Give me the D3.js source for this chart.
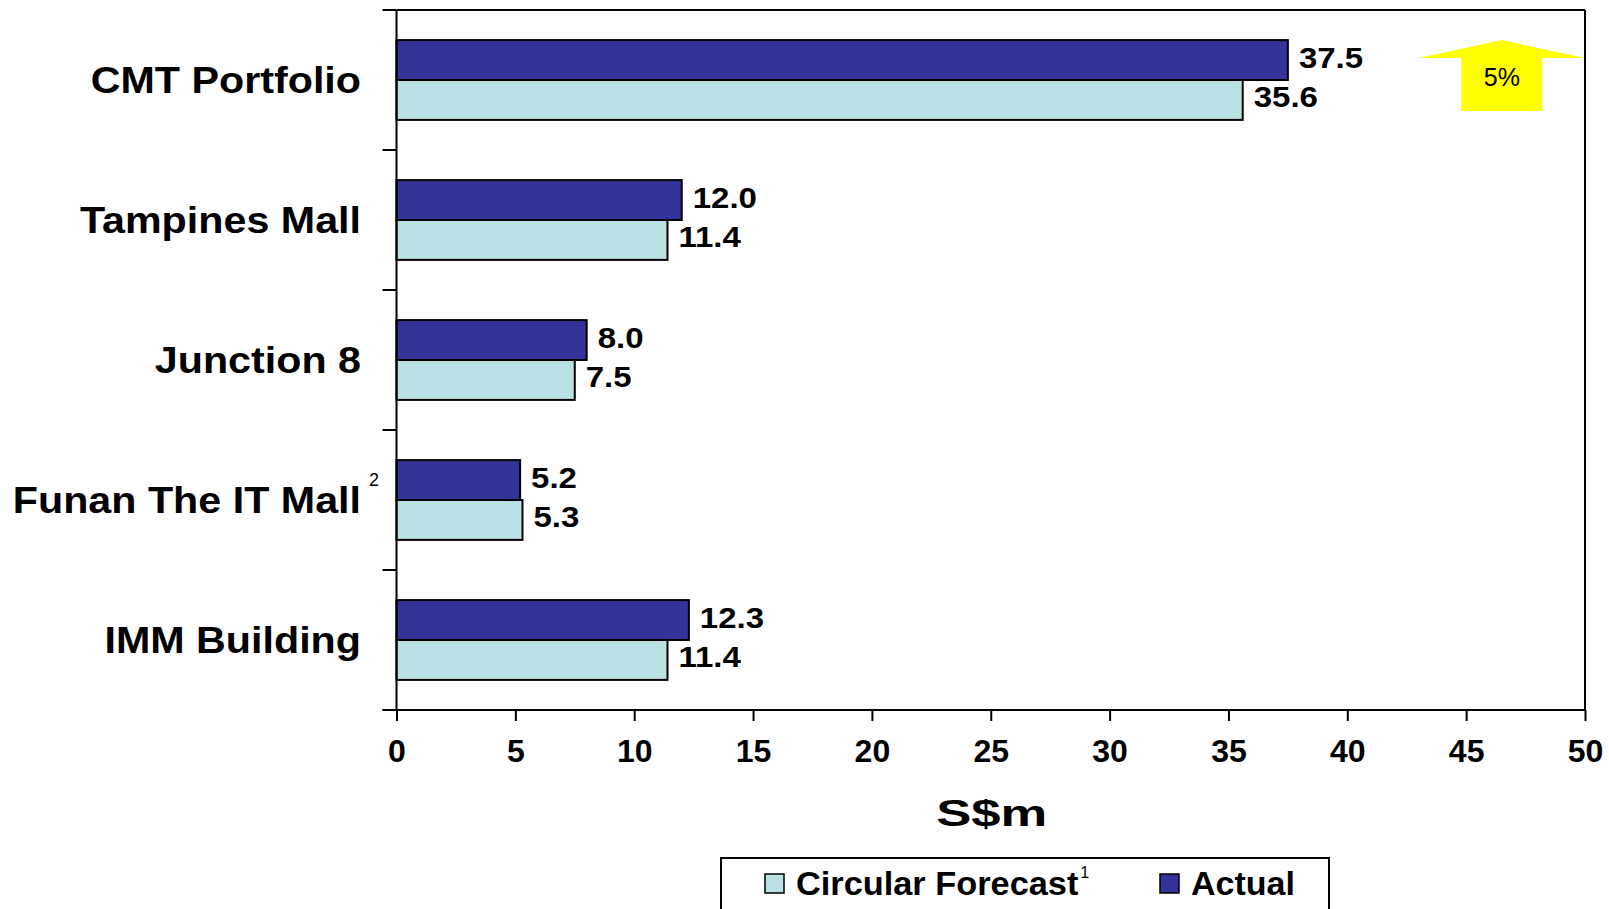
<!DOCTYPE html>
<html>
<head>
<meta charset="utf-8">
<script src="https://cdn.jsdelivr.net/npm/d3@7/dist/d3.min.js"></script>
<style>
  body { margin: 0; background: #fff; }
  svg { display: block; font-family: 'Liberation Sans', Arial, sans-serif; }
</style>
</head>
<body>
<div id="plot"></div>
<script>
'use strict';

const categories = ['CMT Portfolio', 'Tampines Mall', 'Junction 8', 'Funan The IT Mall', 'IMM Building'];
const categoryNotes = ['', '', '', '2', ''];
const actual = [37.5, 12.0, 8.0, 5.2, 12.3];
const forecast = [35.6, 11.4, 7.5, 5.3, 11.4];
const xTicks = [0, 5, 10, 15, 20, 25, 30, 35, 40, 45, 50];
const seriesNames = ['Circular Forecast', 'Actual'];
const seriesNotes = ['1', ''];
const axisTitle = 'S$m';
const growthLabel = '5%';

let col = { actual: '#333399', forecast: '#b9e0e3' }

let width = 1609;
let height = 909;
let m = { left: 396.5, right: 1585, top: 10, bottom: 710 };

let svg = d3.select('#plot').append('svg')
  .attr('width', width)
  .attr('height', height)

let x = d3.scaleLinear()
  .domain([0, 50])
  .range([m.left, m.right]);
let y = d3.scaleBand()
  .domain(categories)
  .range([m.top, m.bottom])
  .paddingInner(0.43)
  .paddingOuter(0.215);
let ySub = d3.scaleBand()
  .domain(['actual', 'forecast'])
  .range([0, y.bandwidth()]);

let rows = categories.map((c, i) => ({cat: c, note: categoryNotes[i], actual: actual[i], forecast: forecast[i]}));

// growth arrow in the top band
let arrowX = 46.5, arrowHalfHead = 3.5, arrowHalfStem = 1.7;
let ay = y(categories[0]);
let arrow = d3.path();
arrow.moveTo(x(arrowX), ay);
arrow.lineTo(x(arrowX + arrowHalfHead), ay + 18);
arrow.lineTo(x(arrowX + arrowHalfStem), ay + 18);
arrow.lineTo(x(arrowX + arrowHalfStem), ay + 71);
arrow.lineTo(x(arrowX - arrowHalfStem), ay + 71);
arrow.lineTo(x(arrowX - arrowHalfStem), ay + 18);
arrow.lineTo(x(arrowX - arrowHalfHead), ay + 18);
arrow.closePath();
svg.append('path')
  .attr('d', arrow.toString())
  .attr('fill', '#ffff00');
svg.append('text')
  .attr('x', x(arrowX))
  .attr('y', ay + 46)
  .attr('text-anchor', 'middle')
  .attr('font-size', '25px')
  .attr('fill', '#000')
  .text(growthLabel);

// bars
let groups = svg.append('g')
  .selectAll('g')
  .data(rows)
  .enter()
  .append('g')
  .attr('transform', d => `translate(0, ${y(d.cat)})`);

['actual', 'forecast'].forEach(function(key) {
  groups.append('rect')
    .attr('x', x(0))
    .attr('y', ySub(key))
    .attr('width', d => x(d[key]) - x(0))
    .attr('height', ySub.bandwidth())
    .attr('fill', col[key])
    .attr('stroke', '#000')
    .attr('stroke-width', 2);
  groups.append('text')
    .attr('transform', d => `translate(${x(d[key]) + 11}, ${ySub(key) + ySub.bandwidth() / 2 + 7.5}) scale(1.1, 1)`)
    .attr('font-size', '30px')
    .attr('font-weight', 'bold')
    .attr('fill', '#000')
    .text(d => d3.format('.1f')(d[key]));
});

// frame and y axis
let frame = svg.append('g')
  .attr('stroke', '#000')
  .attr('stroke-width', 2)
  .attr('fill', 'none');
frame.append('line').attr('x1', m.left).attr('x2', m.left).attr('y1', m.top).attr('y2', m.bottom);
frame.append('line').attr('x1', m.left).attr('x2', m.right).attr('y1', m.top).attr('y2', m.top);
frame.append('line').attr('x1', m.right).attr('x2', m.right).attr('y1', m.top).attr('y2', m.bottom);
let bandEdges = d3.range(categories.length + 1).map(i => m.top + i * y.step());
frame.selectAll('.ytick')
  .data(bandEdges)
  .enter()
  .append('line')
  .attr('x1', m.left - 14)
  .attr('x2', m.left)
  .attr('y1', d => d)
  .attr('y2', d => d);

// category labels
let labels = svg.append('g')
  .selectAll('g')
  .data(rows)
  .enter()
  .append('g')
  .attr('transform', d => `translate(361, ${y(d.cat) + y.bandwidth() / 2 + 13})`);
labels.append('text')
  .attr('transform', 'scale(1.115, 1)')
  .attr('text-anchor', 'end')
  .attr('font-size', '37px')
  .attr('font-weight', 'bold')
  .attr('fill', '#000')
  .text(d => d.cat);
labels.append('text')
  .attr('x', 8)
  .attr('y', -27)
  .attr('font-size', '18px')
  .attr('fill', '#000')
  .text(d => d.note);

// x axis
let x_axis = d3.axisBottom(x)
  .tickValues(xTicks)
  .tickSize(11)
  .tickSizeOuter(0)
  .tickPadding(18);
let gx = svg.append('g')
  .attr('transform', `translate(0, ${m.bottom})`)
  .call(x_axis);
gx.select('.domain').remove();
gx.append('line')
  .attr('x1', m.left - 14)
  .attr('x2', m.right)
  .attr('stroke', '#000')
  .attr('stroke-width', 2);
gx.selectAll('.tick line')
  .attr('stroke', '#000')
  .attr('stroke-width', 2);
gx.selectAll('.tick text')
  .attr('fill', '#000')
  .attr('font-size', '32px')
  .attr('font-weight', 'bold')
  .attr('font-family', "'Liberation Sans', Arial, sans-serif");

svg.append('text')
  .attr('transform', `translate(${(m.left + m.right) / 2 + 1}, 826) scale(1.42, 1)`)
  .attr('text-anchor', 'middle')
  .attr('font-size', '37px')
  .attr('font-weight', 'bold')
  .attr('fill', '#000')
  .text(axisTitle);

// legend
let legend = svg.append('g');
legend.append('rect')
  .attr('x', 721)
  .attr('y', 858)
  .attr('width', 608)
  .attr('height', 80)
  .attr('fill', '#fff')
  .attr('stroke', '#000')
  .attr('stroke-width', 2);
let legendItems = [
  {name: seriesNames[0], note: seriesNotes[0], color: col.forecast, x: 765, sx: 1.01},
  {name: seriesNames[1], note: seriesNotes[1], color: col.actual, x: 1160, sx: 1.0}
];
let li = legend.selectAll('.item')
  .data(legendItems)
  .enter()
  .append('g')
  .attr('transform', d => `translate(${d.x}, 874)`);
li.append('rect')
  .attr('width', 19)
  .attr('height', 19)
  .attr('fill', d => d.color)
  .attr('stroke', '#000')
  .attr('stroke-width', 1.5);
let lt = li.append('text')
  .attr('transform', d => `translate(31, 20.5) scale(${d.sx}, 1)`)
  .attr('font-size', '34px')
  .attr('font-weight', 'bold')
  .attr('fill', '#000');
lt.append('tspan').text(d => d.name);
lt.append('tspan')
  .attr('dx', 2)
  .attr('dy', -17)
  .attr('font-size', '16px')
  .attr('font-weight', 'normal')
  .text(d => d.note);
</script>
</body>
</html>
